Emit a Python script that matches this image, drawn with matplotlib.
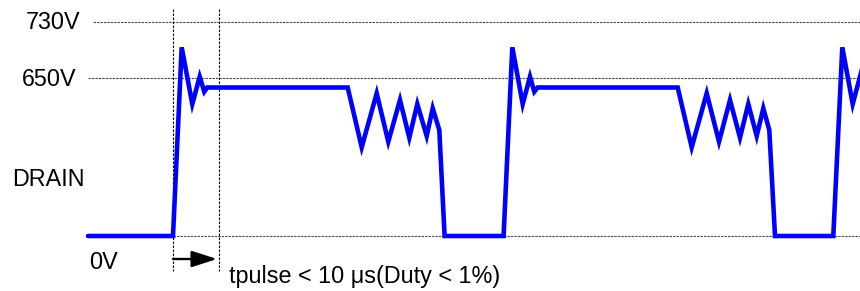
import matplotlib
matplotlib.use("Agg")
import matplotlib.pyplot as plt

plt.rcParams['font.family'] = ['Liberation Sans', 'DejaVu Sans']

# Drain waveform (schematic units: time, level above 0V line)
t = [88, 173, 181.7, 192.3, 199.7, 204.3, 207.3, 347.7, 361.7, 376.7, 388.3,
     400, 409.3, 417.3, 426.7, 432.7, 439.3, 444.6, 503.6, 512.3, 522.7, 530,
     534.3, 537.7, 677.7, 691.7, 706.7, 719, 730, 740, 748.3, 756.7, 763.3,
     769.3, 775, 833.3, 842.3, 852.7, 860, 864.3]
v = [0, 0, 188.7, 132, 159.3, 144.3, 148.5, 148.5, 88.7, 142.7, 94.3,
     136, 98.3, 132, 100, 127.7, 106, 0, 0, 188.7, 132, 159.3,
     144.3, 148.5, 148.5, 88.7, 142.7, 94.3, 136, 98.3, 132, 100, 127.7,
     106, 0, 0, 188.7, 132, 159.3, 144.3]

# Reference levels
level_vals = [214, 158, 0]
level_labels = ["730V", "650V", "0V"]
level_start = [93, 88, 173]

# Pulse-width markers
marker_t = [173, 219]

fig = plt.figure(figsize=(8.6, 2.91), dpi=100)
ax = fig.add_axes([0, 0, 1, 1])
ax.set_xlim(0, 860)
ax.set_ylim(-55, 236)
ax.axis('off')

for y, x0 in zip(level_vals, level_start):
    ax.plot([x0, 860], [y, y], color='#4d4d4d', lw=0.8,
            linestyle=(0, (2.2, 0.9)), zorder=1)

for x in marker_t:
    ax.plot([x, x], [226.7, -35], color='black', lw=0.8,
            linestyle=(0, (2.2, 1.4)), zorder=1)

ax.plot(t, v, color='#0000FF', lw=3.3, solid_joinstyle='miter',
        solid_capstyle='round', zorder=3, clip_on=True)

fs = 16.8
ax.text(26, 206.7, level_labels[0], fontsize=fs, ha='left', va='baseline')
ax.text(21.7, 150, level_labels[1], fontsize=fs, ha='left', va='baseline')
ax.text(89.3, -33.3, level_labels[2], fontsize=fs, ha='left', va='baseline')
ax.text(11.7, 50, "DRAIN", fontsize=fs, ha='left', va='baseline')
ax.text(229, -46.7, "tpulse < 10 \u03bcs(Duty < 1%)", fontsize=fs,
        ha='left', va='baseline')

ax.annotate("", xy=(marker_t[1] - 2, -23), xytext=(marker_t[0], -23),
            arrowprops=dict(arrowstyle='-|>,head_length=1.55,head_width=0.5',
                            color='black', lw=1.7, shrinkA=0, shrinkB=0,
                            mutation_scale=10))

fig.savefig("out.png", dpi=100)
